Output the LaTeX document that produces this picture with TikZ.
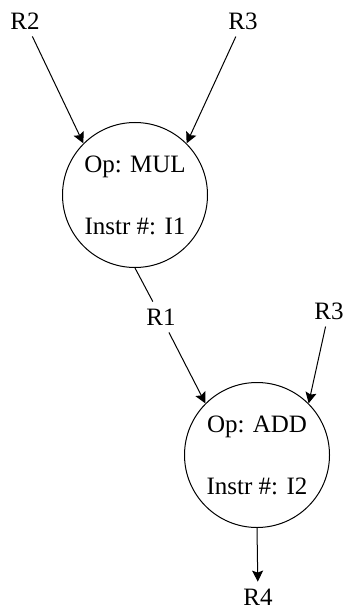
\documentclass[tikz,border=0pt]{standalone}
\usepackage{fontspec}
\setmainfont{Liberation Serif}
\usetikzlibrary{arrows.meta}

\begin{document}
\begin{tikzpicture}[x=0.5pt, y=-0.5pt, line width=0.5pt,
    >={Stealth[length=5.5pt, width=5.5pt, inset=1pt]},
    every node/.style={font=\fontsize{12.5}{15}\selectfont},
    opnode/.style={draw, circle, minimum size=72.5pt, inner sep=0pt, align=center}]
    \useasboundingbox (0,0) rectangle (343,609);
    \node [opnode] (mul) at (135,195) {Op: MUL\\[16pt]Instr \#: I1};
    \node [opnode] (add) at (257,455) {Op: ADD\\[16pt]Instr \#: I2};
    \path (25,21)   node (r2)  {R2}
          (243,21)  node (r3)  {R3}
          (161,317) node (r1)  {R1}
          (329,311) node (r3b) {R3}
          (258,597) node (r4)  {R4};
    \draw [->] (r2) -- (mul.135);
    \draw [->] (r3) -- (mul.45);
    \draw (mul.south) -- (r1);
    \draw [->] (r1) -- (add.135);
    \draw [->] (r3b) -- (add.45);
    \draw [->] (add.south) -- (r4);
  \end{tikzpicture}
\end{document}
